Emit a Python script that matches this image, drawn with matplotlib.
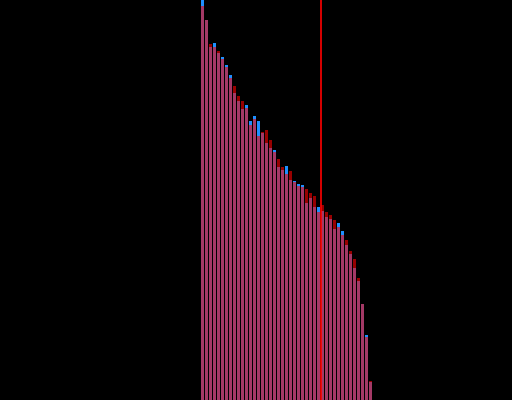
import matplotlib
matplotlib.use("Agg")
import matplotlib.pyplot as plt
import numpy as np

# top pixel rows (0..100 scale)
blue_top_px = [0, 20, 47, 43, 53, 57, 65, 75, 93, 101, 109, 105, 121, 116, 121, 133, 143, 148, 150,
               167, 170, 166, 180, 181, 184, 185, 203, 198, 207, 207, 211, 217, 219, 229, 223, 231,
               245, 254, 268, 281, 304, 335, 382]
red_top_px = [6, 20, 44, 47, 51, 59, 67, 78, 86, 96, 101, 108, 125, 119, 136, 132, 130, 140, 152,
              159, 167, 174, 171, 182, 186, 187, 189, 193, 196, 212, 205, 212, 215, 220, 227, 235,
              240, 251, 259, 278, 304, 337, 381]
blue_vals = [(400 - p) / 4 for p in blue_top_px]
red_vals = [(400 - p) / 4 for p in red_top_px]
cutoff = 29.5

x = np.arange(len(blue_vals))

fig = plt.figure(figsize=(5.12, 4.0), dpi=100, facecolor="black")
ax = fig.add_axes([0, 0, 1, 1])
ax.set_facecolor("black")
ax.bar(x, blue_vals, width=0.75, color="#1e90ff", linewidth=0)
ax.bar(x, red_vals, width=0.75, color="#ff0000", alpha=0.6, linewidth=0)
ax.axvline(cutoff, color="#ff0000", linewidth=1.2)
ax.set_xlim((0 - 202.5) / 4, (512 - 202.5) / 4)
ax.set_ylim(0, 100)
ax.axis("off")
fig.savefig("out.png", dpi=100, facecolor="black")
